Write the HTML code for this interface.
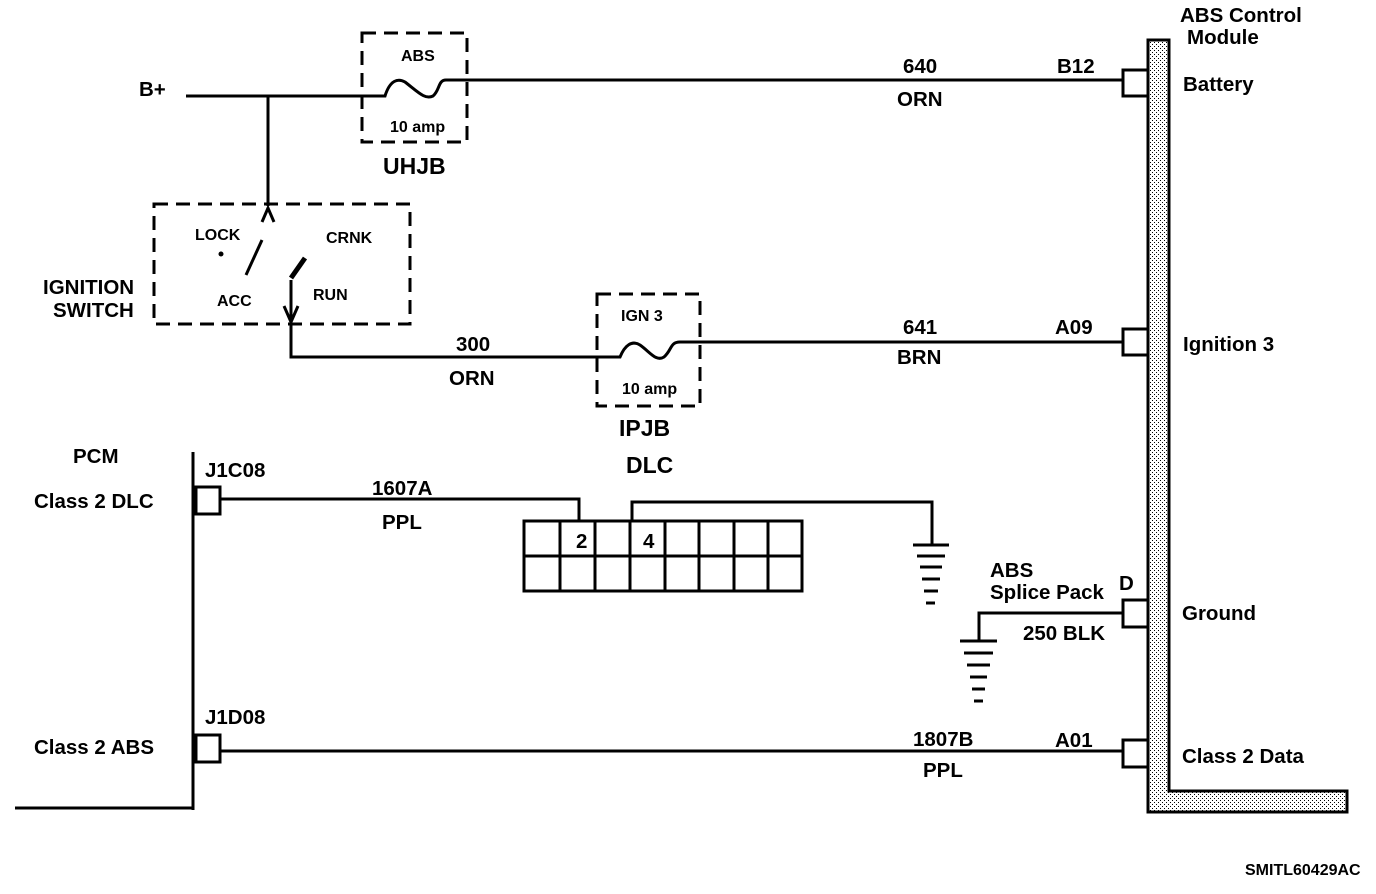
<!DOCTYPE html>
<html><head><meta charset="utf-8"><style>
html,body{margin:0;padding:0;background:#fff;}
svg{display:block;}
text{font-family:"Liberation Sans",Arial,sans-serif;font-weight:bold;fill:#000;}
</style></head><body>
<svg width="1376" height="894" viewBox="0 0 1376 894" xmlns="http://www.w3.org/2000/svg">
<defs>
<pattern id="dots" width="4" height="4" patternUnits="userSpaceOnUse">
<rect width="4" height="4" fill="#fff"/><rect x="0" y="0" width="1" height="1" fill="#000"/><rect x="2" y="2" width="1" height="1" fill="#000"/>
</pattern>
</defs>
<g stroke="#000" stroke-width="3" fill="none">
<polygon points="1148,40 1169,40 1169,791 1347,791 1347,812 1148,812" fill="url(#dots)"/>
<rect x="1123" y="70" width="25" height="26" fill="#fff"/>
<rect x="1123" y="329" width="25" height="26" fill="#fff"/>
<rect x="1123" y="600" width="25" height="27" fill="#fff"/>
<rect x="1123" y="740" width="25" height="27" fill="#fff"/>
<path d="M186,96 L385,96 C390,80 398,78 405,82 C418,92 425,100 433,96 C440,90 438,80 446,80 L1123,80"/>
<rect x="362" y="33" width="105" height="109" stroke-dasharray="14,8"/>
<line x1="268" y1="96" x2="268" y2="206"/>
<rect x="154" y="204" width="256" height="120" stroke-dasharray="14,8"/>
<path d="M262,222 L268,208 L274,222"/>
<line x1="262" y1="240" x2="246" y2="275"/>
<line x1="305" y1="258" x2="291" y2="278" stroke-width="5"/>
<path d="M291,280 L291,357 L620,357 C625,345 632,340 640,345 C650,352 656,362 664,357 C672,350 670,342 680,342 L1123,342"/>
<path d="M284,306 L291,322 L298,306"/>
<rect x="597" y="294" width="103" height="112" stroke-dasharray="14,8"/>
<line x1="193" y1="452" x2="193" y2="810"/>
<line x1="15" y1="808" x2="193" y2="808"/>
<rect x="196" y="487" width="24" height="27" fill="#fff"/>
<rect x="196" y="735" width="24" height="27" fill="#fff"/>
<path d="M220,499 L579,499 L579,521"/>
<path d="M632,521 L632,502 L932,502 L932,545"/>
<rect x="524" y="521" width="278" height="70"/>
<line x1="524" y1="556" x2="802" y2="556"/>
<line x1="560" y1="521" x2="560" y2="591"/>
<line x1="595" y1="521" x2="595" y2="591"/>
<line x1="630" y1="521" x2="630" y2="591"/>
<line x1="665" y1="521" x2="665" y2="591"/>
<line x1="699" y1="521" x2="699" y2="591"/>
<line x1="734" y1="521" x2="734" y2="591"/>
<line x1="768" y1="521" x2="768" y2="591"/>
<line x1="913" y1="545" x2="949" y2="545"/>
<line x1="917" y1="556" x2="945" y2="556"/>
<line x1="920" y1="567" x2="942" y2="567"/>
<line x1="922" y1="579" x2="940" y2="579"/>
<line x1="924" y1="591" x2="938" y2="591"/>
<line x1="926" y1="603" x2="935" y2="603"/>
<path d="M1123,613 L979,613 L979,641"/>
<line x1="960" y1="641" x2="997" y2="641"/>
<line x1="964" y1="653" x2="993" y2="653"/>
<line x1="967" y1="665" x2="990" y2="665"/>
<line x1="970" y1="677" x2="987" y2="677"/>
<line x1="972" y1="689" x2="985" y2="689"/>
<line x1="974" y1="701" x2="983" y2="701"/>
<line x1="220" y1="751" x2="1123" y2="751"/>
</g>
<circle cx="221" cy="254" r="2.5" fill="#000"/>
<g font-size="20.5">
<text x="1180" y="22">ABS Control</text>
<text x="1187" y="44">Module</text>
<text x="1183" y="91">Battery</text>
<text x="1183" y="351">Ignition 3</text>
<text x="1182" y="620">Ground</text>
<text x="1182" y="763">Class 2 Data</text>
<text x="139" y="96">B+</text>
<text x="903" y="73">640</text>
<text x="897" y="106">ORN</text>
<text x="1057" y="73">B12</text>
<text x="903" y="334">641</text>
<text x="897" y="364">BRN</text>
<text x="1055" y="334">A09</text>
<text x="456" y="351">300</text>
<text x="449" y="385">ORN</text>
<text x="43" y="294">IGNITION</text>
<text x="53" y="317">SWITCH</text>
<text x="73" y="463">PCM</text>
<text x="34" y="508">Class 2 DLC</text>
<text x="34" y="754">Class 2 ABS</text>
<text x="205" y="477">J1C08</text>
<text x="205" y="724">J1D08</text>
<text x="372" y="495">1607A</text>
<text x="382" y="529">PPL</text>
<text x="913" y="746">1807B</text>
<text x="923" y="777">PPL</text>
<text x="1055" y="747">A01</text>
<text x="990" y="577">ABS</text>
<text x="990" y="599">Splice Pack</text>
<text x="1119" y="590">D</text>
<text x="1023" y="640">250 BLK</text>
<text x="576" y="548">2</text>
<text x="643" y="548">4</text>
<text x="383" y="174" font-size="23">UHJB</text>
<text x="619" y="436" font-size="23">IPJB</text>
<text x="626" y="473" font-size="23">DLC</text>
</g>
<g font-size="16">
<text x="401" y="61">ABS</text>
<text x="390" y="132">10 amp</text>
<text x="621" y="321">IGN 3</text>
<text x="622" y="394">10 amp</text>
<text x="195" y="240">LOCK</text>
<text x="326" y="243">CRNK</text>
<text x="217" y="306">ACC</text>
<text x="313" y="300">RUN</text>
</g>
<text x="1245" y="875" font-size="16">SMITL60429AC</text>
</svg>
</body></html>
